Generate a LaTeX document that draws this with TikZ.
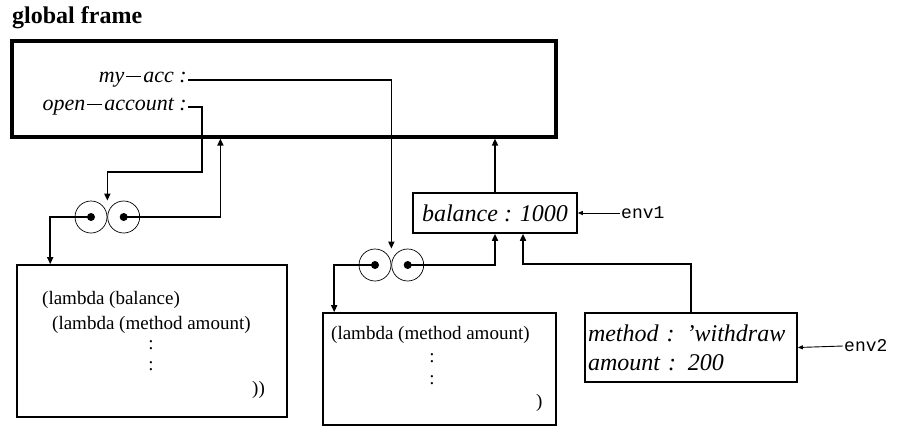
\documentclass[tikz,border=0pt]{standalone}
\usepackage{fontspec}
\setmainfont{Liberation Serif}
\setmonofont{Liberation Mono}
\usetikzlibrary{arrows.meta,positioning}
\newcommand{\lmin}{\kern2pt\rule[6pt]{15pt}{1pt}\kern2pt}

\begin{document}
\begin{tikzpicture}[x=1pt, y=-1pt,
    ptr/.style={-{Triangle[length=7pt,width=6pt]}, line width=1.6pt},
    envptr/.style={-{Triangle[length=5pt,width=4pt]}, line width=0.9pt},
    frm/.style={draw, line width=1.6pt, inner sep=0pt},
    cell/.style={circle, draw, line width=0.7pt, minimum size=32pt, inner sep=0pt},
    itx/.style={font=\fontsize{22}{26}\selectfont\itshape, inner sep=1pt},
    bigitx/.style={font=\fontsize{24}{29}\selectfont\itshape},
    code/.style={font=\fontsize{19}{23}\selectfont, inner sep=0pt},
    mono/.style={font=\fontsize{18}{22}\selectfont\ttfamily, inner sep=1pt}]
  \useasboundingbox (0,0) rectangle (899,434);

  % global environment
  \node[anchor=base west, inner sep=0pt, font=\fontsize{24}{28}\selectfont\bfseries] (title) at (12,23) {global frame};
  \node[frm, line width=3.2pt, minimum width=544pt, minimum height=96pt] (global) at (284,89) {};
  \node[itx, anchor=east] (myacc) at (188,80) {my\lmin acc :};
  \node[itx, anchor=east] (openacc) at (188,107) {open\lmin account :};

  % procedure objects
  \node[cell] (p1l) at (91,217) {};
  \node[cell, right=0pt of p1l] (p1r) {};
  \node[cell] (p2l) at (375,265) {};
  \node[cell, right=0pt of p2l] (p2r) {};
  \foreach \c in {p1l,p1r,p2l,p2r}
    \fill (\c) circle (4pt);

  % code boxes
  \node[frm, minimum width=270pt, minimum height=152pt] (lam1) at (152,341) {};
  \node[code, anchor=west] (l1a) at (42,300) {(lambda (balance)};
  \node[code, anchor=west] (l1b) at (52,325) {(lambda (method amount)};
  \node[code] (l1c) at (151,345) {:};
  \node[code] (l1d) at (151,366) {:};
  \node[code, anchor=west] (l1e) at (252,390) {))};

  \node[frm, minimum width=233pt, minimum height=112pt] (lam2) at (439.5,369) {};
  \node[code, anchor=west] (l2a) at (331,335) {(lambda (method amount)};
  \node[code] (l2b) at (432,358) {:};
  \node[code] (l2c) at (432,380) {:};
  \node[code, anchor=west] (l2d) at (536,403) {)};

  % frames E1 and E2
  \node[frm, bigitx, minimum width=164pt, minimum height=40pt] (bal) at (495,213) {balance : 1000};
  \node[frm, bigitx, text width=206pt, inner sep=3pt, align=left, minimum height=69pt] (e2) at (691,347.5)
    {method : ’withdraw\\amount : 200};
  \node[mono, anchor=west] (env1) at (620,213) {env1};
  \node[mono, anchor=west] (env2) at (843,346) {env2};

  % pointers
  \draw[ptr] (myacc.east) -| (p2l.north -| p2l.east);
  \draw[ptr] (openacc.east) -| (202,172) -| (p1l.north -| p1l.east);
  \draw[ptr] (p1l.center) -| ([xshift=34pt]lam1.north west);
  \draw[ptr] (p1r.center) -| ([xshift=210pt]global.south west);
  \draw[ptr] (p2l.center) -| ([xshift=12pt]lam2.north west);
  \draw[ptr] (p2r.center) -| (bal.south);
  \draw[ptr] (bal.north) -- (bal.north |- global.south);
  \draw[ptr] (e2.north) -- ++(0,-48) -| ([xshift=28pt]bal.south);
  \draw[envptr] (env1.west) -- (bal.east);
  \draw[envptr] (env2.west) -- (e2.east);
\end{tikzpicture}
\end{document}
